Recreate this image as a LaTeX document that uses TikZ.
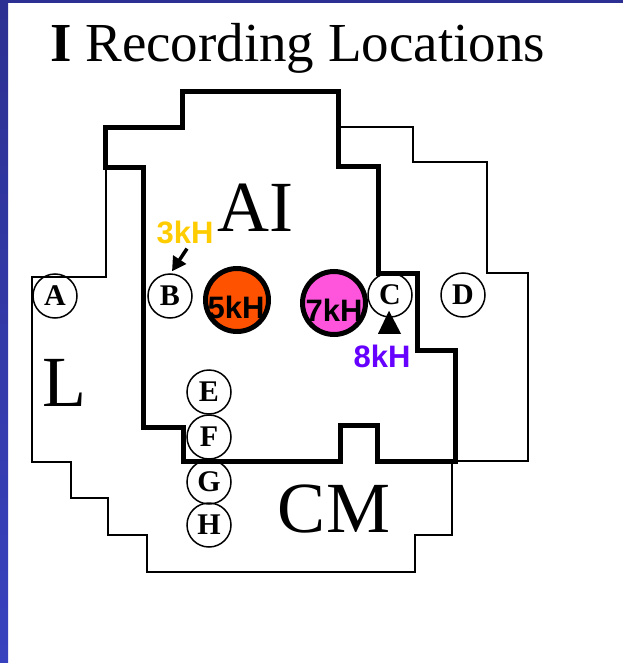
\documentclass[tikz,border=0pt]{standalone}
\usepackage{fontspec}
\setmainfont{Liberation Serif}
\newfontfamily\kfont{Liberation Sans}
\usetikzlibrary{arrows.meta,calc}
\definecolor{bluetop}{RGB}{44,48,146}
\definecolor{bluebot}{RGB}{56,66,190}
\definecolor{orangefill}{RGB}{255,82,0}
\definecolor{pinkfill}{RGB}{255,85,220}
\definecolor{goldtxt}{RGB}{255,204,0}
\definecolor{purpletxt}{RGB}{102,0,255}
\begin{document}
\begin{tikzpicture}[x=1pt,y=-1pt,
  thickline/.style={line width=5pt,line join=miter},
  thinline/.style={line width=2pt,line join=miter},
  letcirc/.style={circle,draw,line width=1.5pt,minimum size=44pt,inner sep=0pt,
    font=\fontsize{30}{30}\selectfont\bfseries},
  bigletter/.style={font=\fontsize{72}{72}\selectfont,inner sep=0pt},
  freqcirc/.style={circle,draw,line width=5pt,minimum size=63pt,inner sep=0pt},
  freqtxt/.style={font=\kfont\fontsize{31}{31}\selectfont\bfseries,inner sep=0pt}]
\useasboundingbox (0,0) rectangle (623,663);
\fill[white] (0,0) rectangle (623,663);
\shade[top color=bluetop,bottom color=bluebot] (0,0) rectangle (8,663);
\fill[bluetop] (0,0) rectangle (623,3);

% title
\node[anchor=base west,inner sep=0pt,font=\fontsize{55}{60}\selectfont] (title) at (50,62)
  {\textbf{I} Recording Locations};

% thin outlines
\draw[thinline] (106,168) -- (106,277) -- (32,277) -- (32,462) -- (71,462) -- (71,498)
  -- (108,498) -- (108,535) -- (147,535) -- (147,572) -- (415,572) -- (415,535)
  -- (452,535) -- (452,461);
\draw[thinline] (338,127) -- (413,127) -- (413,162) -- (487,162) -- (487,273)
  -- (528,273) -- (528,461) -- (455,461);

% thick outline (AI)
\draw[thickline] (455,461) -- (455,350) -- (417,350) -- (417,273) -- (378,273)
  -- (378,167) -- (338,167) -- (338,92) -- (182,92) -- (182,128) -- (105,128)
  -- (105,168) -- (143,168) -- (143,427) -- (183,427) -- (183,461) -- (340,461)
  -- (340,425) -- (377,425) -- (377,461) -- cycle;

% region labels
\node[bigletter] (AI) at (255,208) {AI};
\node[bigletter] (L) at (64,383) {L};
\node[bigletter] (CM) at (334,509) {CM};

% recording sites
\node[letcirc] (A) at (55,296) {A};
\node[letcirc] (B) at (170,296) {B};
\node[letcirc] (C) at (390,295) {C};
\node[letcirc] (D) at (463,295) {D};
\node[letcirc] (E) at (209,392) {E};
\node[letcirc] (F) at (209,437) {F};
\node[letcirc] (G) at (209,482) {G};
\node[letcirc] (H) at (209,525) {H};

% frequency spots
\node[freqcirc,fill=orangefill] (c5) at (237,300) {};
\node[freqtxt] (t5) at (236,307) {5kH};
\node[freqcirc,fill=pinkfill] (c7) at (334,303) {};
\node[freqtxt] (t7) at (334,310) {7kH};

% 3kH label and arrow
\node[freqtxt,text=goldtxt] (t3) at (185,232) {3kH};
\draw[line width=3.5pt,-{Triangle[length=14pt,width=15pt]}]
  ($(t3.south)+(2,5)$) -- ($(B.north)+(2,-2)$);

% 8kH label and arrowhead
\node[freqtxt,text=purpletxt] (t8) at (382,356) {8kH};
\fill ($(C.south)+(-1,-7)$) -- ($(C.south)+(-12,16)$) -- ($(C.south)+(11,16)$) -- cycle;
\end{tikzpicture}
\end{document}
